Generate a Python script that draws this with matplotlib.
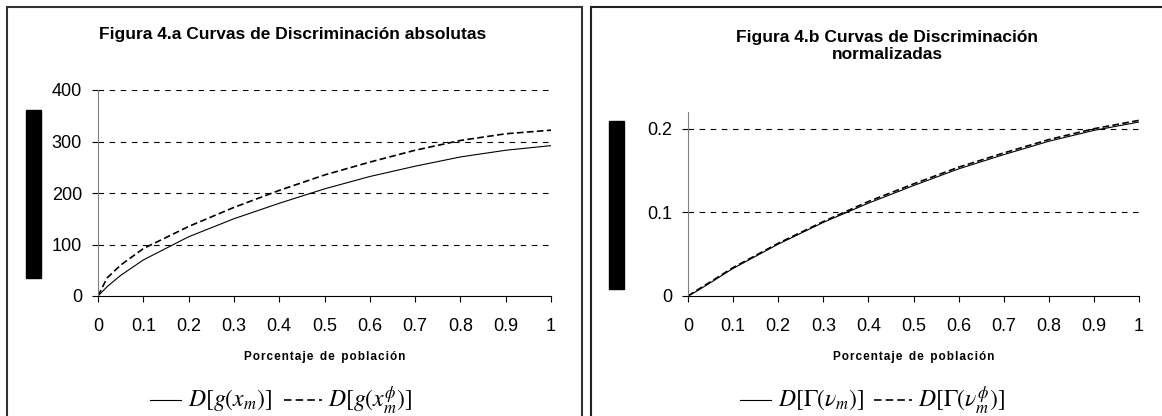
import numpy as np
import matplotlib.pyplot as plt
from matplotlib.patches import Rectangle
from matplotlib.lines import Line2D

plt.rcParams['font.family'] = ['Liberation Sans', 'DejaVu Sans']
plt.rcParams['mathtext.fontset'] = 'stix'

# datos
pobl = [0, 0.02, 0.05, 0.1, 0.2, 0.3, 0.4, 0.5, 0.6, 0.7, 0.8, 0.9, 1.0]
abs_g = [0, 18, 40, 70, 115, 150, 180, 208, 232, 252, 270, 283, 292]
abs_g_phi = [0, 35, 60, 92, 135, 172, 205, 235, 260, 283, 302, 315, 322]
norm_G = [0, 0.006, 0.016, 0.033, 0.062, 0.088, 0.111, 0.132, 0.152, 0.169, 0.185, 0.198, 0.208]
norm_G_phi = [0, 0.007, 0.017, 0.034, 0.063, 0.089, 0.113, 0.134, 0.154, 0.171, 0.187, 0.2, 0.21]

x_ticks = [0, 0.1, 0.2, 0.3, 0.4, 0.5, 0.6, 0.7, 0.8, 0.9, 1]
x_ticklabels = ['0', '0.1', '0.2', '0.3', '0.4', '0.5', '0.6', '0.7', '0.8', '0.9', '1']

W, H = 1162, 416
fig = plt.figure(figsize=(W / 100, H / 100), dpi=100)


def px_rect(x0, y0, x1, y1):
    # pixeles (desde arriba) -> fraccion de figura
    return [x0 / W, 1 - y1 / H, (x1 - x0) / W, (y1 - y0) / H]


def spaced(s):
    return '\u200a'.join(s).replace('\u200a \u200a', '  ')


def panel(rect, yl, yticks, yticklabels, s1, s2, title, leg1, leg2, title_xc, title_y, leg_x):
    ax = fig.add_axes(px_rect(*rect))
    ax.plot(pobl, s1, color='black', lw=0.8)
    ax.plot(pobl, s2, color='black', lw=1.2, ls=(0, (4, 2)))
    ax.set_xlim(0, 1)
    ax.set_ylim(*yl)
    ax.set_xticks(x_ticks)
    ax.set_xticklabels(x_ticklabels)
    ax.set_yticks(yticks)
    ax.set_yticklabels(yticklabels)
    for v in yticks[1:]:
        ax.axhline(v, color='black', lw=0.8, ls=(0, (5, 5)))
    for s in ['top', 'right']:
        ax.spines[s].set_visible(False)
    ax.spines['left'].set_color('#808080')
    ax.spines['bottom'].set_color('black')
    ax.tick_params(direction='out', length=4.5, width=0.8, labelsize=13)
    ax.tick_params(axis='x', pad=11)
    ax.tick_params(axis='y', pad=7)
    ax.set_xlabel(spaced('Porcentaje de población'), fontsize=8.5, fontweight='bold', labelpad=12)
    fig.text(title_xc / W, 1 - title_y / H, title, ha='center', va='center',
             fontsize=12.5, fontweight='bold', linespacing=1.2)
    # leyenda manual
    ly = 1 - 400 / H
    x0 = leg_x
    fig.add_artist(Line2D([x0 / W, (x0 + 31) / W], [ly, ly], color='black', lw=0.8))
    fig.text((x0 + 38) / W, ly, leg1, ha='left', va='center', fontsize=17)
    fig.add_artist(Line2D([(x0 + 134) / W, (x0 + 172) / W], [ly, ly], color='black', lw=1.2, ls=(0, (4.5, 2.5))))
    fig.text((x0 + 178) / W, ly, leg2, ha='left', va='center', fontsize=17)
    return ax


panel((98, 90, 551, 296), (0, 400), [0, 100, 200, 300, 400], ['0', '100', '200', '300', '400'],
      abs_g, abs_g_phi, 'Figura 4.a Curvas de Discriminación absolutas',
      r'$D[g(x_m)]$', r'$D[g(x_m^{\phi})]$', 293, 35, 150)
panel((688, 112, 1139, 296), (0, 0.22), [0, 0.1, 0.2], ['0', '0.1', '0.2'],
      norm_G, norm_G_phi, 'Figura 4.b Curvas de Discriminación\nnormalizadas',
      r'$D[\Gamma(\nu_m)]$', r'$D[\Gamma(\nu_m^{\phi})]$', 887, 46, 740)

# marcos de los paneles
fig.add_artist(Rectangle((7 / W, -0.05), (582 - 7) / W, 1 - 7 / H + 0.05, transform=fig.transFigure,
                         fill=False, edgecolor='#333333', lw=1.5))
fig.add_artist(Rectangle((591 / W, -0.05), 0.6, 1 - 7 / H + 0.05, transform=fig.transFigure,
                         fill=False, edgecolor='#222222', lw=1.5))
# barras negras (etiquetas del eje y)
for x0, y0, y1 in [(26, 110, 278), (609, 121, 289)]:
    fig.add_artist(Rectangle((x0 / W, 1 - y1 / H), 15 / W, (y1 - y0) / H,
                             transform=fig.transFigure, color='black'))

fig.savefig('out.png', dpi=100)
